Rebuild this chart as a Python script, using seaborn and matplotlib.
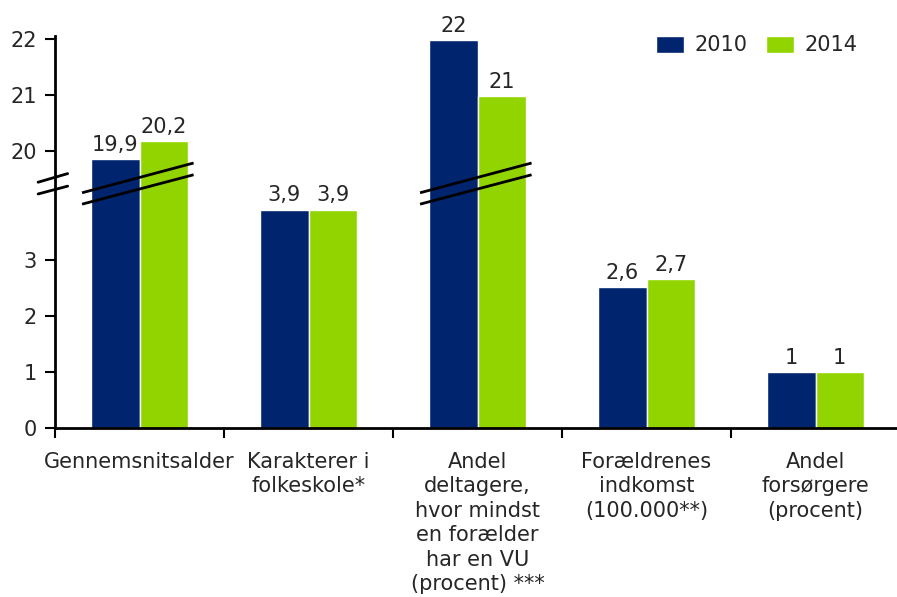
import numpy as np
import pandas as pd
import matplotlib
matplotlib.use("Agg")
import matplotlib.pyplot as plt
import seaborn as sns

# data
categories = [
    "Gennemsnitsalder",
    "Karakterer i\nfolkeskole*",
    "Andel\ndeltagere,\nhvor mindst\nen forælder\nhar en VU\n(procent) ***",
    "Forældrenes\nindkomst\n(100.000**)",
    "Andel\nforsørgere\n(procent)",
]
years = ["2010", "2014"]
heights_2010 = [19.85, 3.9, 21.98, 2.52, 1.0]
heights_2014 = [20.17, 3.9, 20.97, 2.66, 1.0]
labels_2010 = [19.9, 3.9, 22, 2.6, 1]
labels_2014 = [20.2, 3.9, 21, 2.7, 1]
y_ticks = [0, 1, 2, 3, 20, 21, 22]

COLORS = ["#00256E", "#92D400"]
TEXT = "#262626"
FS = 15

# broken axis: 0-4.3 as is, then jump so that 20 sits just above 4.9
LOW, HIGH, SHIFT = 4.3, 19.4, 15.05


def forward(v):
    v = np.asarray(v, dtype=float)
    mid = LOW + (v - LOW) * (HIGH - SHIFT - LOW) / (HIGH - LOW)
    return np.where(v <= LOW, v, np.where(v < HIGH, mid, v - SHIFT))


def inverse(y):
    y = np.asarray(y, dtype=float)
    top = HIGH - SHIFT
    mid = LOW + (y - LOW) * (HIGH - LOW) / (top - LOW)
    return np.where(y <= LOW, y, np.where(y < top, mid, y + SHIFT))


df = pd.DataFrame({
    "kategori": categories * 2,
    "aar": [years[0]] * 5 + [years[1]] * 5,
    "vaerdi": heights_2010 + heights_2014,
})

sns.set_theme(style="white")
plt.rcParams["font.family"] = ["DejaVu Sans"]
plt.rcParams["text.color"] = TEXT

fig = plt.figure(figsize=(8.97, 5.97), dpi=100)
ax = fig.add_axes([55 / 897, 169 / 597, 845 / 897, 392 / 597])

sns.barplot(data=df, x="kategori", y="vaerdi", hue="aar", palette=COLORS,
            width=0.57, gap=0.0, edgecolor="white", linewidth=1,
            saturation=1, ax=ax)

ax.set_yscale("function", functions=(forward, inverse))
ax.set_ylim(0, inverse(7.0))
ax.set_xlim(-0.5, 4.5)
ax.set_yticks(y_ticks)
ax.set_yticklabels([str(t) for t in y_ticks])
ax.set_xlabel("")
ax.set_ylabel("")

for cont, labs in zip(ax.containers, [labels_2010, labels_2014]):
    ax.bar_label(cont, labels=[f"{v:g}".replace(".", ",") for v in labs],
                 padding=3, fontsize=FS, color=TEXT)

# category separators below the axis
ax.set_xticks(np.arange(-0.5, 5, 1), minor=True)
ax.tick_params(axis="x", which="major", length=0, pad=17, labelsize=FS,
               labelcolor=TEXT)
ax.tick_params(axis="x", which="minor", bottom=True, length=7, width=1.5,
               direction="out", color="black")
ax.tick_params(axis="y", left=True, length=7, width=1.5, direction="out",
               color="black", pad=6, labelsize=FS, labelcolor=TEXT)
for lab in ax.get_xticklabels():
    lab.set_ha("center")
    lab.set_multialignment("center")
    lab.set_linespacing(1.28)

sns.despine(ax=ax, top=True, right=True)
for side in ["left", "bottom"]:
    ax.spines[side].set_color("black")
    ax.spines[side].set_linewidth(2)

# break marks across the bars of the first and third group
tr = ax.get_xaxis_transform()
for i in [0, 2]:
    for y0, y1 in [(0.600, 0.676), (0.571, 0.646)]:
        ax.plot([i - 0.34, i + 0.32], [y0, y1], color="black", lw=2,
                transform=tr, clip_on=False, solid_capstyle="butt")

# break marks on the y axis
for y0, y1 in [(0.627, 0.649), (0.597, 0.617)]:
    ax.plot([-0.02, 0.015], [y0, y1], color="black", lw=2,
            transform=ax.transAxes, clip_on=False)

ax.legend(loc="upper right", bbox_to_anchor=(868 / 897, 1 - 25 / 597),
          bbox_transform=fig.transFigure, ncol=2, frameon=False,
          fontsize=FS, handlelength=1.35, handleheight=0.9,
          handletextpad=0.5, columnspacing=0.9, borderpad=0, title=None)

fig.savefig("out.png", dpi=100)
